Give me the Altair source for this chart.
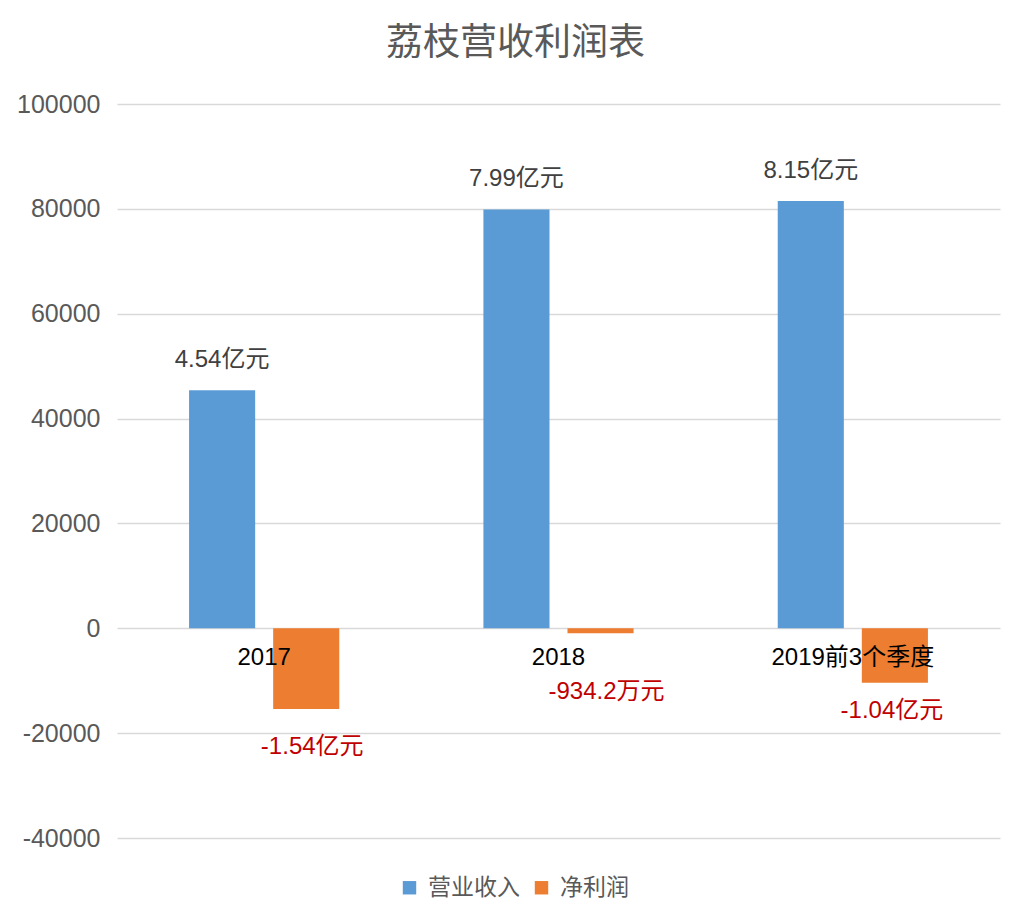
import altair as alt
import pandas as pd

CATEGORIES = ["2017", "2018", "2019前3个季度"]
SERIES = ["营业收入", "净利润"]
REVENUE = [45400, 79900, 81500]
PROFIT = [-15400, -934.2, -10400]
REVENUE_LABELS = ["4.54亿元", "7.99亿元", "8.15亿元"]
PROFIT_LABELS = ["-1.54亿元", "-934.2万元", "-1.04亿元"]
Y_TICKS = [-40000, -20000, 0, 20000, 40000, 60000, 80000, 100000]
COLORS = ["#5B9BD5", "#ED7D31"]

FONT = "'Liberation Sans', 'Noto Sans CJK SC', sans-serif"

rows = []
for c, v, l in zip(CATEGORIES, REVENUE, REVENUE_LABELS):
    rows.append({"category": c, "series": SERIES[0], "value": v, "label": l})
for c, v, l in zip(CATEGORIES, PROFIT, PROFIT_LABELS):
    rows.append({"category": c, "series": SERIES[1], "value": v, "label": l})
df = pd.DataFrame(rows)
cat_df = pd.DataFrame({"category": CATEGORIES})

x_enc = alt.X("category:N", sort=CATEGORIES, axis=None,
              scale=alt.Scale(paddingInner=0, paddingOuter=0))
xoff_enc = alt.XOffset("series:N", sort=SERIES,
                       scale=alt.Scale(paddingInner=0.214, paddingOuter=0.857))
y_enc = alt.Y("value:Q",
              scale=alt.Scale(domain=[-40000, 100000], nice=False, zero=False),
              axis=alt.Axis(values=Y_TICKS, title=None, ticks=False, domain=False,
                            labelFontSize=25, labelColor="#595959", labelFont=FONT,
                            labelPadding=17, gridColor="#D9D9D9", gridWidth=1.5,
                            labelExpr="'' + datum.value"))

base = alt.Chart(df).encode(x=x_enc, xOffset=xoff_enc, y=y_enc)

bars = base.mark_bar().encode(
    color=alt.Color("series:N",
                    scale=alt.Scale(domain=SERIES, range=COLORS),
                    legend=alt.Legend(title=None, orient="none", legendX=281, legendY=772,
                                      direction="horizontal", symbolType="square",
                                      symbolSize=180, symbolStrokeWidth=0,
                                      labelFontSize=23, labelColor="#595959",
                                      labelFont=FONT, columnPadding=10, labelOffset=7))
)

rev_labels = base.transform_filter(alt.datum.series == SERIES[0]).mark_text(
    baseline="middle", dy=-30, fontSize=24, color="#404040", font=FONT
).encode(text="label:N")

profit_layers = []
offsets = [(6, 38), (6, 59), (-3, 28)]
for c, (ddx, ddy) in zip(CATEGORIES, offsets):
    profit_layers.append(
        base.transform_filter(
            (alt.datum.series == SERIES[1]) & (alt.datum.category == c)
        ).mark_text(baseline="middle", dx=ddx, dy=ddy, fontSize=24,
                    color="#C00000", font=FONT).encode(text="label:N")
    )

cat_labels = alt.Chart(cat_df).mark_text(
    baseline="middle", dy=30, fontSize=24, color="#000000", font=FONT
).encode(x=x_enc, y=alt.datum(0), text="category:N")

chart = alt.layer(bars, rev_labels, *profit_layers, cat_labels).properties(
    width=883, height=734,
    title=alt.TitleParams("荔枝营收利润表", fontSize=37, color="#595959",
                          font="'Noto Sans CJK SC', sans-serif", fontWeight="normal",
                          anchor="middle", dx=-43, offset=29),
    autosize=alt.AutoSizeParams(type="none"),
    padding={"left": 109, "top": 96, "right": 26, "bottom": 80},
).configure_view(stroke=None)

chart.save("out.html", embed_options={"renderer": "svg", "actions": False})
